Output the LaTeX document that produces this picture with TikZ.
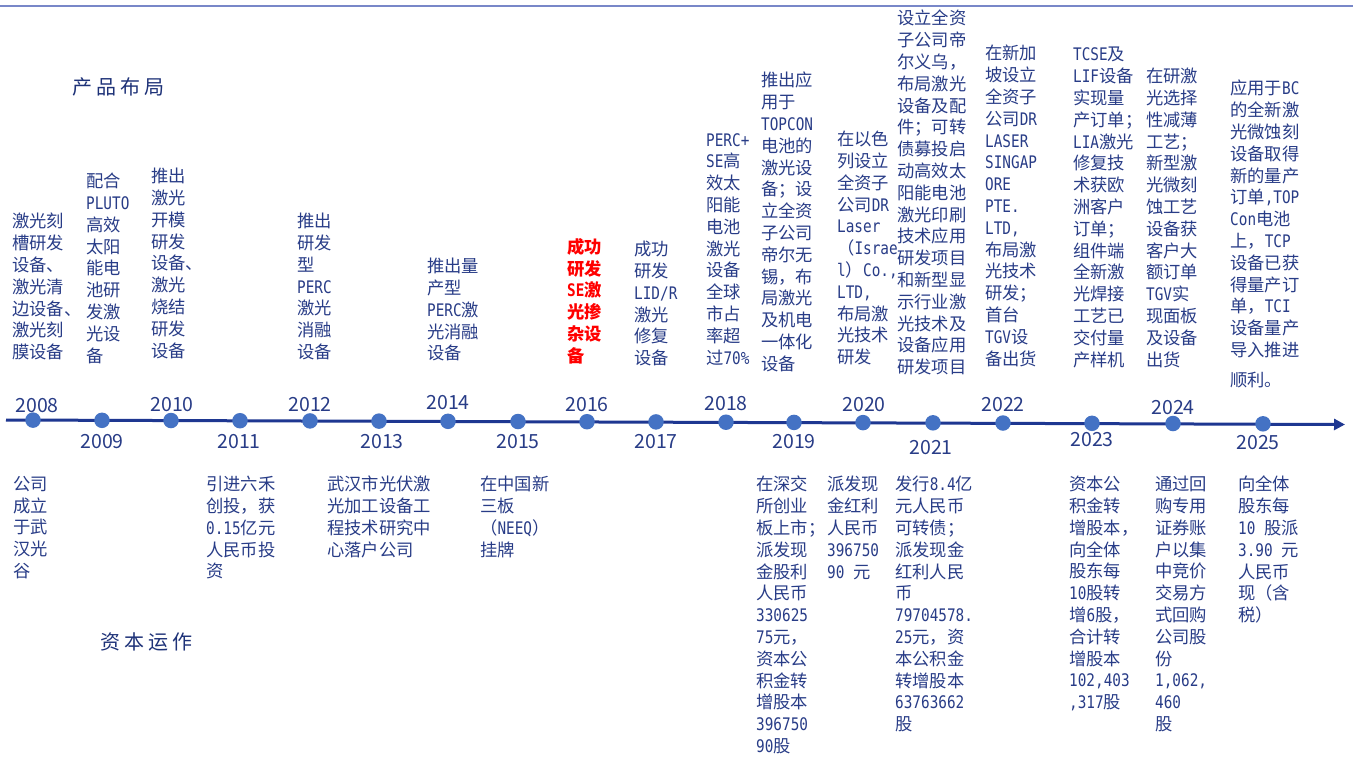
\documentclass[tikz,border=0pt]{standalone}
\usepackage{fontspec}
\setmainfont{Noto Sans CJK SC}
\newfontfamily\latinfont[FakeStretch=0.83]{DejaVu Sans Mono}
\newcommand\lat[1]{{\latinfont #1}}
\usetikzlibrary{arrows.meta}
\definecolor{txtblue}{RGB}{40,60,135}
\definecolor{titleblue}{RGB}{30,50,120}
\definecolor{dotblue}{RGB}{68,114,196}
\definecolor{lineblue}{RGB}{30,55,145}
\definecolor{guideblue}{RGB}{143,170,220}
\definecolor{topblue}{RGB}{120,135,200}
\definecolor{hotred}{RGB}{255,0,0}
\pgfdeclarelayer{bg}
\pgfsetlayers{bg,main}
\begin{document}
\begin{tikzpicture}[x=1pt,y=-1pt,
  desc/.style={anchor=north west, align=left, inner sep=0pt, text=txtblue,
    font=\fontsize{17.3}{21.8}\selectfont},
  hot/.style={desc, text=hotred, font=\fontsize{17.3}{21.8}\selectfont\bfseries},
  yr/.style={text=txtblue, inner sep=0pt, font=\fontsize{19.5}{22}\selectfont},
  dot/.style={circle, fill=dotblue, minimum size=15.5pt, inner sep=0pt},
  guide/.style={draw=guideblue, dash pattern=on 4pt off 3pt, line width=0.9pt},
  ttl/.style={text=titleblue, inner sep=0pt, font=\fontsize{20}{24}\selectfont},
  axis/.style={draw=lineblue, line width=3pt, -{Triangle[length=11pt,width=11pt]}},
  rule/.style={draw=topblue, line width=1.8pt}
]
\useasboundingbox (0,0) rectangle (1353,756);
\fill[white] (0,0) rectangle (1353,756);

% top rule
\coordinate (rl) at (0,6);
\coordinate (rr) at (1353,6);
\draw[rule] (rl) -- (rr);

% titles
\node[ttl] (tprod) at (118.5,87) {产\hspace{4pt}品\hspace{4pt}布\hspace{4pt}局};
\node[ttl] (tcap) at (146.5,642) {资\hspace{4pt}本\hspace{4pt}运\hspace{4pt}作};

% timeline
\coordinate (tls) at (6,420);
\coordinate (tle) at (1345,424.5);
\draw[axis] (tls) -- (tle);

% dots
\node[dot] (d2008) at (33,420.1) {};
\node[dot] (d2009) at (102,420.3) {};
\node[dot] (d2010) at (171,420.5) {};
\node[dot] (d2011) at (240,420.7) {};
\node[dot] (d2012) at (310,420.9) {};
\node[dot] (d2013) at (379,421.1) {};
\node[dot] (d2014) at (448,421.3) {};
\node[dot] (d2015) at (518,421.5) {};
\node[dot] (d2016) at (587,421.7) {};
\node[dot] (d2017) at (656,421.9) {};
\node[dot] (d2018) at (726,422.2) {};
\node[dot] (d2019) at (794,422.4) {};
\node[dot] (d2020) at (863,422.6) {};
\node[dot] (d2021) at (933,422.8) {};
\node[dot] (d2022) at (1003,423.0) {};
\node[dot] (d2023) at (1092,423.3) {};
\node[dot] (d2024) at (1173,423.5) {};
\node[dot] (d2025) at (1263,423.8) {};

% year labels
\node[yr] (y2008) at (37,406) {2008};
\node[yr] (y2009) at (102,442) {2009};
\node[yr] (y2010) at (172,405) {2010};
\node[yr] (y2011) at (239,442) {2011};
\node[yr] (y2012) at (310,405) {2012};
\node[yr] (y2013) at (382,442) {2013};
\node[yr] (y2014) at (448,403) {2014};
\node[yr] (y2015) at (518,442) {2015};
\node[yr] (y2016) at (587,405) {2016};
\node[yr] (y2017) at (656,442) {2017};
\node[yr] (y2018) at (726,404) {2018};
\node[yr] (y2019) at (794,442) {2019};
\node[yr] (y2020) at (864,405) {2020};
\node[yr] (y2021) at (931,448) {2021};
\node[yr] (y2022) at (1003,405) {2022};
\node[yr] (y2023) at (1092,440) {2023};
\node[yr] (y2024) at (1173,408) {2024};
\node[yr] (y2025) at (1258,443) {2025};

% upper texts (product)
\node[desc] (t2008) at (12,213) {激光刻\\槽研发\\设备、\\激光清\\边设备、\\激光刻\\膜设备};
\node[desc] (t2009) at (86,173) {配合\\\lat{PLUTO}\\高效\\太阳\\能电\\池研\\发激\\光设\\备};
\node[desc] (t2010) at (151,168) {推出\\激光\\开模\\研发\\设备、\\激光\\烧结\\研发\\设备};
\node[desc] (t2012) at (297,213) {推出\\研发\\型\\\lat{PERC}\\激光\\消融\\设备};
\node[desc] (t2014) at (427,258) {推出量\\产型\\\lat{PERC}激\\光消融\\设备};
\node[hot] (t2016) at (567,238) {成功\\研发\\\lat{SE}激\\光掺\\杂设\\备};
\node[desc] (t2017) at (634,241) {成功\\研发\\\lat{LID/R}\\激光\\修复\\设备};
\node[desc] (t2018) at (706,133) {\lat{PERC+}\\\lat{SE}高\\效太\\阳能\\电池\\激光\\设备\\全球\\市占\\率超\\过\lat{70\%}};
\node[desc] (t2019) at (761,72) {推出应\\用于\\\lat{TOPCON}\\电池的\\激光设\\备；设\\立全资\\子公司\\帝尔无\\锡，布\\局激光\\及机电\\一体化\\设备};
\node[desc] (t2020) at (837,131) {在以色\\列设立\\全资子\\公司\lat{DR}\\\lat{Laser}\\（\lat{Israe}\\\lat{l}）\lat{Co.,}\\\lat{LTD,}\\布局激\\光技术\\研发};
\node[desc] (t2021) at (897,10) {设立全资\\子公司帝\\尔义乌，\\布局激光\\设备及配\\件；可转\\债募投启\\动高效太\\阳能电池\\激光印刷\\技术应用\\研发项目\\和新型显\\示行业激\\光技术及\\设备应用\\研发项目};
\node[desc] (t2022) at (985,45) {在新加\\坡设立\\全资子\\公司\lat{DR}\\\lat{LASER}\\\lat{SINGAP}\\\lat{ORE}\\\lat{PTE.}\\\lat{LTD,}\\布局激\\光技术\\研发；\\首台\\\lat{TGV}设\\备出货};
\node[desc] (t2023) at (1073,47) {\lat{TCSE}及\\\lat{LIF}设备\\实现量\\产订单；\\\lat{LIA}激光\\修复技\\术获欧\\洲客户\\订单；\\组件端\\全新激\\光焊接\\工艺已\\交付量\\产样机};
\node[desc] (t2024) at (1146,68) {在研激\\光选择\\性减薄\\工艺；\\新型激\\光微刻\\蚀工艺\\设备获\\客户大\\额订单\\\lat{TGV}实\\现面板\\及设备\\出货};
\node[desc] (t2025) at (1230,80) {应用于\lat{BC}\\的全新激\\光微蚀刻\\设备取得\\新的量产\\订单\lat{,TOP}\\\lat{Con}电池\\上，\lat{TCP}\\设备已获\\得量产订\\单，\lat{TCI}\\设备量产\\导入推进\\[8pt]顺利。};

% lower texts (capital)
\node[desc] (b2008) at (13,476) {公司\\成立\\于武\\汉光\\谷};
\node[desc] (b2011) at (206,476) {引进六禾\\创投，获\\\lat{0.15}亿元\\人民币投\\资};
\node[desc] (b2013) at (327,476) {武汉市光伏激\\光加工设备工\\程技术研究中\\心落户公司};
\node[desc] (b2015) at (480,476) {在中国新\\三板\\（\lat{NEEQ}）\\挂牌};
\node[desc] (b2019) at (756,476) {在深交\\所创业\\板上市；\\派发现\\金股利\\人民币\\\lat{330625}\\\lat{75}元，\\资本公\\积金转\\增股本\\\lat{396750}\\\lat{90}股};
\node[desc] (b2020) at (827,476) {派发现\\金红利\\人民币\\\lat{396750}\\\lat{90 }元};
\node[desc] (b2021) at (895,476) {发行\lat{8.4}亿\\元人民币\\可转债；\\派发现金\\红利人民\\币\\\lat{79704578.}\\\lat{25}元，资\\本公积金\\转增股本\\\lat{63763662}\\股};
\node[desc] (b2023) at (1069,476) {资本公\\积金转\\增股本，\\向全体\\股东每\\\lat{10}股转\\增\lat{6}股，\\合计转\\增股本\\\lat{102,403}\\\lat{,317}股};
\node[desc] (b2024) at (1155,476) {通过回\\购专用\\证券账\\户以集\\中竞价\\交易方\\式回购\\公司股\\份\\\lat{1,062,}\\\lat{460}\\股};
\node[desc] (b2025) at (1238,476) {向全体\\股东每\\\lat{10 }股派\\\lat{3.90 }元\\人民币\\现（含\\税）};

% guides
\begin{pgfonlayer}{bg}
\foreach \y in {2008,2009,2010,2012,2014,2016,2017,2018,2019,2020,2021,2022,2023,2024,2025}
  \draw[guide] ([yshift=-5pt]t\y.south -| d\y.center) -- (d\y.center);
\foreach \y in {2008,2011,2013,2015,2019,2020,2021,2023,2024,2025}
  \draw[guide] (d\y.center) -- ([yshift=13pt]b\y.north -| d\y.center);
\end{pgfonlayer}
\end{tikzpicture}
\end{document}
